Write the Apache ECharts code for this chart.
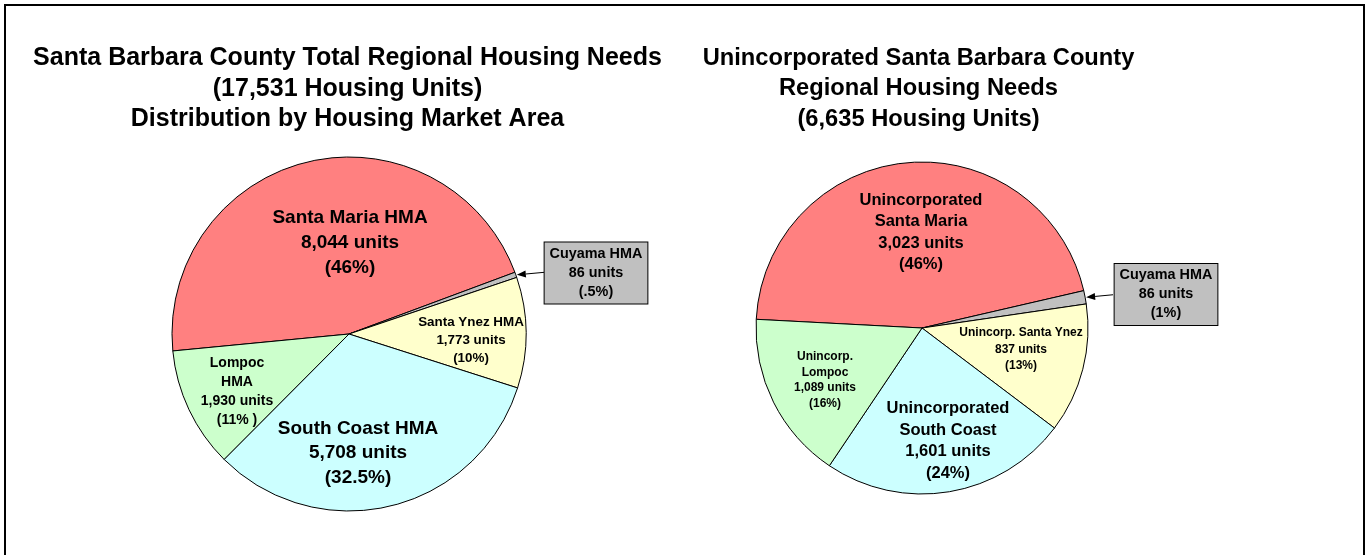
<!DOCTYPE html>
<html>
<head>
<meta charset="utf-8">
<script src="https://cdn.jsdelivr.net/npm/echarts@6/dist/echarts.min.js"></script>
<style>
  html, body { margin: 0; padding: 0; background: #fff; }
  #main { width: 1367px; height: 555px; }
</style>
</head>
<body>
<div id="main"></div>
<script>
// slice order follows the reference, clockwise from the Santa Maria / Lompoc edge
const leftNames = ['Santa Maria HMA', 'Cuyama HMA', 'Santa Ynez HMA', 'South Coast HMA', 'Lompoc\nHMA'];
const leftUnits = [8044, 86, 1773, 5708, 1930];
const leftPct = ['46%', '.5%', '10%', '32.5%', '11% '];

const rightNames = ['Unincorporated\nSanta Maria', 'Cuyama HMA', 'Unincorp. Santa Ynez', 'Unincorporated\nSouth Coast', 'Unincorp.\nLompoc'];
const rightUnits = [3023, 86, 837, 1601, 1089];
const rightPct = ['46%', '1%', '13%', '24%', '16%'];

const sliceColors = ['#FF8080', '#C0C0C0', '#FFFFCC', '#CCFFFF', '#CCFFCC'];

const leftTitle = 'Santa Barbara County Total Regional Housing Needs\n(17,531 Housing Units)\nDistribution by Housing Market Area';
const rightTitle = 'Unincorporated Santa Barbara County\nRegional Housing Needs\n(6,635 Housing Units)';

// layout
const FONT = 'Arial, "Liberation Sans", sans-serif';
const leftPie = { center: [349, 334], r: 177, start: 185.5 };
const rightPie = { center: [922, 328], r: 166, start: 177 };

const leftLabelStyle = [
  { x: 350, y: 243, fontSize: 19, lineHeight: 25 },
  { x: 596, y: 273, fontSize: 14.4, lineHeight: 19, box: true },
  { x: 471, y: 340, fontSize: 13.4, lineHeight: 18 },
  { x: 358, y: 453, fontSize: 19, lineHeight: 24.5 },
  { x: 237, y: 391.5, fontSize: 14, lineHeight: 19 }
];
const rightLabelStyle = [
  { x: 921, y: 232.5, fontSize: 16.5, lineHeight: 21.5 },
  { x: 1166, y: 294.5, fontSize: 14.4, lineHeight: 19, box: true },
  { x: 1021, y: 349.5, fontSize: 12, lineHeight: 16.5 },
  { x: 948, y: 441, fontSize: 16.5, lineHeight: 21.5 },
  { x: 825, y: 380, fontSize: 12, lineHeight: 15.5 }
];

function buildData(names, units, pcts, styles) {
  return names.map((n, i) => {
    const s = styles[i];
    const lbl = {
      fontSize: s.fontSize,
      lineHeight: s.lineHeight
    };
    if (s.box) {
      Object.assign(lbl, {
        backgroundColor: '#C0C0C0',
        borderColor: '#000',
        borderWidth: 1,
        padding: [2, 5, 2, 5]
      });
    }
    return {
      name: n,
      value: units[i],
      pct: pcts[i],
      itemStyle: { color: sliceColors[i] },
      label: lbl
    };
  });
}

function makePie(pie, names, units, pcts, styles) {
  return {
    type: 'pie',
    center: pie.center,
    radius: pie.r,
    startAngle: pie.start,
    clockwise: true,
    avoidLabelOverlap: false,
    silent: true,
    itemStyle: { borderColor: '#000', borderWidth: 1 },
    label: {
      show: true,
      position: 'inside',
      color: '#000',
      fontWeight: 'bold',
      fontFamily: FONT,
      align: 'center',
      formatter: p => p.name + '\n' + p.value.toLocaleString('en-US') + ' units\n(' + p.data.pct + ')'
    },
    labelLine: { show: false },
    labelLayout: params => {
      const s = styles[params.dataIndex];
      return { x: s.x, y: s.y, align: 'center', verticalAlign: 'middle' };
    },
    data: buildData(names, units, pcts, styles)
  };
}

// arrow from the Cuyama box to the middle of its slice edge
function arrowFor(pie, units, idx, tailX) {
  const total = units.reduce((a, b) => a + b, 0);
  let before = 0;
  for (let i = 0; i < idx; i++) before += units[i];
  const mid = (pie.start - (before + units[idx] / 2) / total * 360) * Math.PI / 180;
  const tx = pie.center[0] + pie.r * Math.cos(mid) + 1;
  const ty = pie.center[1] - pie.r * Math.sin(mid);
  const tailY = ty - 2.5;
  // direction from tip back toward the tail
  const ang = Math.atan2(tailY - ty, tailX - tx);
  const hx = tx + 9 * Math.cos(ang), hy = ty + 9 * Math.sin(ang);
  const px = 3.5 * Math.sin(ang), py = 3.5 * Math.cos(ang);
  return [
    { type: 'line', shape: { x1: tailX, y1: tailY, x2: hx, y2: hy }, style: { stroke: '#000', lineWidth: 1 } },
    {
      type: 'polygon',
      shape: { points: [[tx, ty], [hx + px, hy - py], [hx - px, hy + py]] },
      style: { fill: '#000' }
    }
  ];
}

const chart = echarts.init(document.getElementById('main'));
const option = {
  backgroundColor: '#fff',
  animation: false,
  title: [
    {
      text: leftTitle, left: 347.5, top: 43, textAlign: 'center', padding: 0,
      textStyle: { fontFamily: FONT, fontSize: 25, fontWeight: 'bold', color: '#000', lineHeight: 30.5 }
    },
    {
      text: rightTitle, left: 918.5, top: 43, textAlign: 'center', padding: 0,
      textStyle: { fontFamily: FONT, fontSize: 23.7, fontWeight: 'bold', color: '#000', lineHeight: 30.5 }
    }
  ],
  graphic: [
    { type: 'rect', shape: { x: 5, y: 5, width: 1359, height: 620 }, style: { fill: 'none', stroke: '#000', lineWidth: 2 } }
  ].concat(arrowFor(leftPie, leftUnits, 1, 544), arrowFor(rightPie, rightUnits, 1, 1113)),
  series: [
    makePie(leftPie, leftNames, leftUnits, leftPct, leftLabelStyle),
    makePie(rightPie, rightNames, rightUnits, rightPct, rightLabelStyle)
  ]
};
chart.setOption(option);
</script>
</body>
</html>
